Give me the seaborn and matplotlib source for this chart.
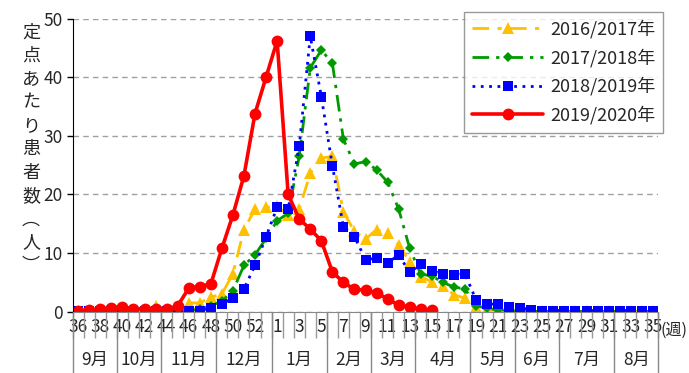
import numpy as np
import pandas as pd
import seaborn as sns
import matplotlib.pyplot as plt

# x axis: season weeks 36..53, 1..35
weeks = list(range(36, 54)) + list(range(1, 36))
week_labels = [str(w) if i % 2 == 0 else '' for i, w in enumerate(weeks)]
months = ['9月', '10月', '11月', '12月', '1月', '2月', '3月', '4月', '5月', '6月', '7月', '8月']
month_weeks = [4, 4, 5, 5, 5, 4, 4, 5, 4, 4, 5, 4]

s1617 = [0.2, 0.2, 0.2, 0.2, 0.2, 0.2, 0.2, 0.9, 0.5, 1.0,
         1.5, 1.5, 2.5, 3.0, 6.5, 14.0, 17.5, 17.8, 18.0, 16.5,
         17.5, 23.6, 26.2, 26.5, 17.0, 13.7, 12.4, 14.0, 13.4, 11.4,
         8.5, 6.0, 5.1, 4.4, 2.9, 2.3, 0.8, 0.3, 0.2, 0.1,
         0.1, 0.1, 0.1, 0.1, 0.1, 0.1, 0.1, 0.1, 0.1, 0.1,
         0.1, 0.1, 0.1]
s1718 = [0.1, 0.1, 0.1, 0.1, 0.1, 0.1, 0.1, 0.1, 0.1, 0.1,
         0.2, 0.4, 1.0, 1.8, 3.6, 7.9, 9.7, 12.5, 15.5, 16.8,
         26.5, 41.6, 44.6, 42.4, 29.4, 25.2, 25.6, 24.2, 22.1, 17.5,
         10.8, 6.4, 6.1, 5.0, 4.2, 3.9, 1.0, 0.6, 0.3, 0.2,
         0.1, 0.05, 0.05, 0.05, 0.05, 0.05, 0.05, 0.05, 0.05, 0.05,
         0.05, 0.05, 0.05]
s1819 = [0.1, 0.1, 0.1, 0.1, 0.1, 0.1, 0.1, 0.1, 0.1, 0.1,
         0.15, 0.2, 0.6, 1.3, 2.3, 3.9, 7.9, 12.8, 17.8, 17.5,
         28.2, 47.0, 36.7, 24.9, 14.5, 12.8, 8.9, 9.1, 8.3, 9.7,
         6.7, 8.1, 7.0, 6.4, 6.3, 6.5, 2.0, 1.3, 1.3, 0.85,
         0.7, 0.3, 0.2, 0.2, 0.2, 0.2, 0.2, 0.2, 0.2, 0.2,
         0.2, 0.2, 0.2]
s1920 = [0.1, 0.3, 0.4, 0.7, 0.85, 0.5, 0.5, 0.5, 0.4, 1.0,
         4.0, 4.3, 4.7, 10.8, 16.5, 23.2, 33.8, 40.0, 46.2, 20.0,
         15.8, 14.1, 12.1, 6.8, 5.0, 3.8, 3.7, 3.2, 2.2, 1.1,
         0.85, 0.4, 0.3]

series = [
    ('2016/2017年', s1617, '#FFC000', (0, (6, 3, 1.5, 3)), '^', 8.0, 2.0),
    ('2017/2018年', s1718, '#009A00', (0, (6, 2.5, 1.2, 2.5)), 'D', 5.5, 2.0),
    ('2018/2019年', s1819, '#0000FF', (0, (1, 2)), 's', 7.0, 2.0),
    ('2019/2020年', s1920, '#FF0000', '-', 'o', 8.5, 2.6),
]

sns.set_style('white')
plt.rcParams['font.family'] = ['Noto Sans CJK JP', 'DejaVu Sans']

fig = plt.figure(figsize=(6.89, 3.73), dpi=100)
ax = fig.add_axes([0.1055, 0.1643, 0.85, 0.786])

for name, vals, col, ls, mk, ms, lw in series:
    df = pd.DataFrame({'x': np.arange(len(vals)), 'y': vals})
    sns.lineplot(data=df, x='x', y='y', ax=ax, color=col, linestyle=ls, linewidth=lw,
                 marker=mk, markersize=ms, markeredgewidth=0, label=name)

ax.set_xlim(-0.5, len(weeks) - 0.5)
ax.set_ylim(0, 50)
ax.set_yticks([0, 10, 20, 30, 40, 50])
ax.yaxis.grid(True, color='#A0A0A0', linestyle=(0, (4, 3)), linewidth=1)
ax.tick_params(axis='y', left=True, length=4, width=1, color='black', labelsize=12.5, pad=3)
ax.set_xticks(np.arange(len(weeks)))
ax.set_xticklabels(week_labels)
ax.tick_params(axis='x', length=0, labelsize=12.5, pad=4.5)
ax.set_xlabel('')
ax.set_ylabel('')
for s in ['top', 'right']:
    ax.spines[s].set_visible(False)
ax.spines['left'].set_color('black')
ax.spines['bottom'].set_color('#888888')

# week separators and month separators below the axis
trans = ax.get_xaxis_transform()
ax.vlines(np.arange(len(weeks) + 1) - 0.5, -0.09, 0, transform=trans, colors='#999999',
          linewidth=1, clip_on=False)
bounds = np.concatenate([[0], np.cumsum(month_weeks)]) - 0.5
ax.vlines(bounds, -0.21, 0, transform=trans, colors='#888888', linewidth=1, clip_on=False)
for m, a, b in zip(months, bounds[:-1], bounds[1:]):
    ax.text((a + b) / 2, -0.165, m, transform=trans, ha='center', va='center', fontsize=12.5)
ax.text(len(weeks) - 0.3, -0.063, '(週)', transform=trans, ha='left', va='center', fontsize=11.5)

fig.text(0.045, 0.6, '\n'.join('定点あたり患者数︵人︶'), ha='center', va='center',
         fontsize=13, linespacing=1.38)

ax.get_legend().remove()
h, l = ax.get_legend_handles_labels()
fig.legend(h, l, loc='upper right', bbox_to_anchor=(0.976, 0.993), fontsize=13,
           handlelength=3.9, labelspacing=0.55, frameon=True, fancybox=False,
           edgecolor='#808080', borderpad=0.45, handletextpad=0.4)

fig.savefig('out.png', dpi=100)
